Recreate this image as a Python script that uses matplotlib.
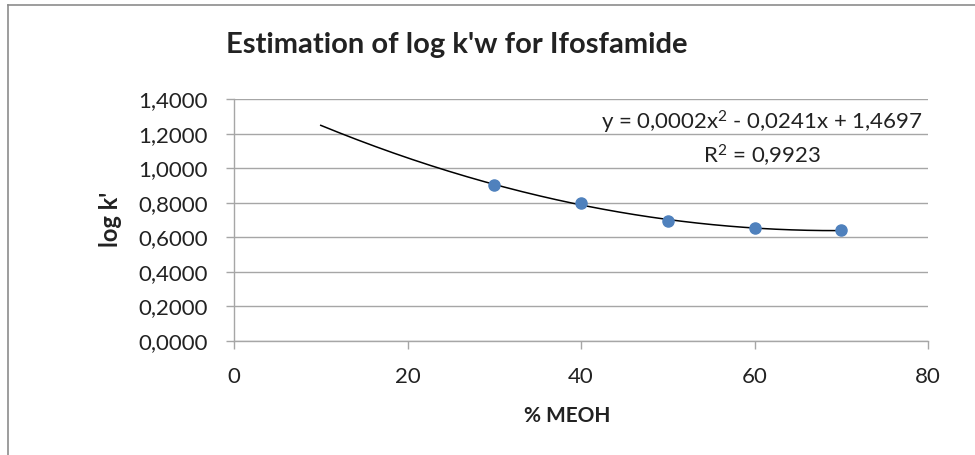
import numpy as np
import matplotlib
matplotlib.use("Agg")
import matplotlib.pyplot as plt
from matplotlib.lines import Line2D
from matplotlib.ticker import FuncFormatter, MultipleLocator

# % methanol in the mobile phase and measured log k'
meoh = [30, 40, 50, 60, 70]
log_k = [0.902, 0.802, 0.693, 0.655, 0.641]

title = "Estimation of log k'w for Ifosfamide"
equation = "y = 0,0002x$^2$ - 0,0241x + 1,4697\nR$^2$ = 0,9923"
trend_start = 10

plt.rcParams["font.family"] = ["Lato", "DejaVu Sans"]
plt.rcParams["mathtext.fontset"] = "custom"
plt.rcParams["mathtext.rm"] = "Lato"
plt.rcParams["mathtext.default"] = "rm"

W, H = 975, 455
fig = plt.figure(figsize=(W / 100, H / 100), dpi=100)
ax = fig.add_axes([234 / W, 1 - 341 / H, (928 - 234) / W, (341 - 99.3) / H])

# polynomial trendline (2nd order), extended back like Excel's forecast
coef = np.polyfit(meoh, log_k, 2)
xs = np.linspace(trend_start, max(meoh), 200)
ax.plot(xs, np.polyval(coef, xs), color="black", linewidth=1.1, zorder=3)

ax.plot(meoh, log_k, "o", color="#4F81BD", markersize=8, zorder=4)

ax.set_xlim(0, 80)
ax.set_ylim(0, 1.4)
ax.xaxis.set_major_locator(MultipleLocator(20))
ax.yaxis.set_major_locator(MultipleLocator(0.2))
ax.yaxis.set_major_formatter(FuncFormatter(lambda v, _: f"{v:.4f}".replace(".", ",")))

ax.grid(axis="y", color="#A6A6A6", linewidth=1.0)
ax.set_axisbelow(True)
for side in ["top", "right"]:
    ax.spines[side].set_visible(False)
for side in ["left", "bottom"]:
    ax.spines[side].set_color("#A6A6A6")
    ax.spines[side].set_linewidth(1.0)
ax.tick_params(axis="both", colors="#A6A6A6", labelcolor="#222222",
               labelsize=16, length=6, width=1.0)
ax.tick_params(axis="x", pad=13)
ax.tick_params(axis="y", pad=13)

# axis titles placed in pixel positions
fig.text(567 / W, 1 - 416 / H, "% MEOH", fontsize=15, fontweight="bold",
         color="#222222", ha="center", va="center")
fig.text(110 / W, 1 - 219 / H, "log k'", fontsize=17, fontweight="bold",
         color="#222222", ha="center", va="center", rotation=90)

fig.text(762 / W, 1 - 139 / H, equation, fontsize=16, color="#222222",
         ha="center", va="center", linespacing=1.35)

fig.text(457 / W, 1 - 45 / H, title, fontsize=21, fontweight="bold",
         color="#222222", ha="center", va="center")

# chart-area border (left and top visible in the crop)
fig.add_artist(Line2D([8 / W, 8 / W], [0, 1 - 5 / H], transform=fig.transFigure,
                      color="#8C8C8C", linewidth=1.2))
fig.add_artist(Line2D([8 / W, 1], [1 - 5 / H, 1 - 5 / H], transform=fig.transFigure,
                      color="#8C8C8C", linewidth=1.2))

fig.savefig("out.png", dpi=100)
